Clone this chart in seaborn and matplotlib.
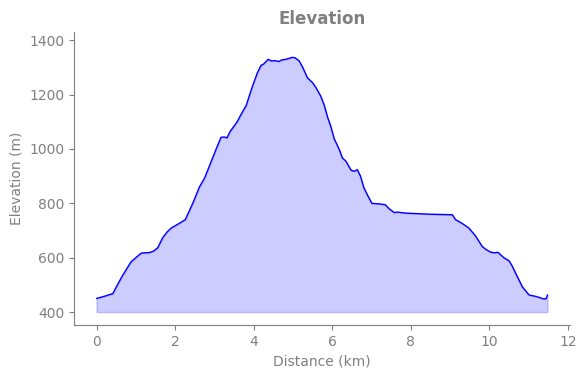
import numpy as np
import pandas as pd
import matplotlib
matplotlib.use("Agg")
import matplotlib.pyplot as plt
import seaborn as sns

# distance along the route (km) and elevation (m)
distance_km = [0, 0.2, 0.415, 0.55, 0.67, 0.88, 1.0, 1.14, 1.35, 1.45, 1.56, 1.69, 1.80, 1.90,
               2.08, 2.26, 2.45, 2.62, 2.75, 2.87, 3.04, 3.17, 3.25, 3.32, 3.40, 3.47, 3.58,
               3.68, 3.81, 3.97, 4.10, 4.19, 4.25, 4.37, 4.45, 4.55, 4.64, 4.72, 4.82, 4.98,
               5.05, 5.16, 5.25, 5.37, 5.50, 5.59, 5.71, 5.80, 5.88, 5.96, 6.05, 6.18, 6.26,
               6.35, 6.48, 6.56, 6.64, 6.72, 6.81, 6.90, 7.01, 7.20, 7.35, 7.45, 7.58, 7.65,
               7.87, 8.5, 9.06, 9.14, 9.30, 9.48, 9.65, 9.82, 9.92, 10.04, 10.15, 10.22,
               10.37, 10.50, 10.58, 10.67, 10.84, 11.01, 11.20, 11.39, 11.45, 11.48]
elevation_m = [450, 458, 468, 505, 536, 585, 600, 617, 619, 624, 637, 675, 695, 709,
               724, 740, 800, 860, 893, 936, 998, 1043, 1044, 1041, 1064, 1078, 1100,
               1127, 1160, 1231, 1282, 1308, 1312, 1330, 1324, 1325, 1322, 1328, 1330, 1337,
               1336, 1324, 1300, 1262, 1244, 1225, 1194, 1160, 1118, 1085, 1038, 998, 967,
               955, 922, 918, 924, 900, 856, 830, 800, 798, 795, 780, 766, 768,
               764, 760, 758, 740, 727, 709, 680, 641, 630, 620, 618, 620,
               600, 589, 570, 543, 493, 463, 457, 448, 450, 463]

profile = pd.DataFrame({"Distance": distance_km, "Elevation": elevation_m})

sns.set_style("ticks")
grey = "#808080"
plt.rcParams.update({
    "axes.edgecolor": grey,
    "xtick.color": grey,
    "ytick.color": grey,
    "axes.labelcolor": grey,
    "text.color": grey,
})

fig, ax = plt.subplots(figsize=(5.87, 3.78), dpi=100)
ax.fill_between(profile["Distance"], profile["Elevation"], 400, color="blue", alpha=0.2)
sns.lineplot(data=profile, x="Distance", y="Elevation", color="blue", linewidth=1, ax=ax)

ax.set_ylim(352, 1430)
ax.set_title("Elevation", fontsize=12, fontweight="bold", color=grey)
ax.set_xlabel("Distance (km)")
ax.set_ylabel("Elevation (m)")
sns.despine(ax=ax)

plt.subplots_adjust(left=0.126, right=0.971, bottom=0.140, top=0.915)
plt.savefig("out.png", dpi=100)
